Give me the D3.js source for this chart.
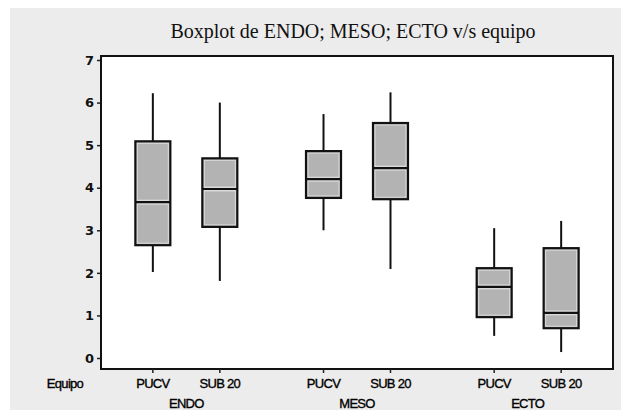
<!DOCTYPE html>
<html>
<head>
<meta charset="utf-8">
<script src="https://cdn.jsdelivr.net/npm/d3@7"></script>
<style>
  html, body { margin: 0; padding: 0; background: #fff; }
  svg { display: block; }
</style>
</head>
<body>
<svg id="chart" width="626" height="416"></svg>
<script>
// groups on the x axis, two teams inside each
var groups = ['ENDO', 'MESO', 'ECTO']
var teams = ['PUCV', 'SUB 20']

// one entry per box, order: ENDO PUCV, ENDO SUB 20, MESO PUCV, MESO SUB 20, ECTO PUCV, ECTO SUB 20
var lows = [2.02, 1.81, 3.00, 2.09, 0.52, 0.14]
var q1s = [2.65, 3.08, 3.76, 3.73, 0.96, 0.70]
var medians = [3.66, 3.97, 4.20, 4.46, 1.67, 1.06]
var q3s = [5.09, 4.69, 4.86, 5.52, 2.11, 2.58]
var highs = [6.22, 6.00, 5.73, 6.24, 3.05, 3.22]

var yTicks = [0, 1, 2, 3, 4, 5, 6, 7]

;(function() {
  var svg = d3.select('#chart')

  var plotL = 101, plotR = 613, plotT = 56, plotB = 369,
    boxW = 35

  // outer grey panel
  svg.append('rect')
    .attr('x', 10).attr('y', 8).attr('width', 611).attr('height', 402)
    .attr('fill', '#ececec')

  svg.append('text')
    .attr('x', 353).attr('y', 38)
    .attr('text-anchor', 'middle')
    .attr('font-family', '"Liberation Serif", "Times New Roman", serif')
    .attr('font-size', 20)
    .attr('fill', '#111')
    .text('Boxplot de ENDO; MESO; ECTO v/s equipo')

  var x0 = d3.scaleBand().domain(groups).range([plotL, plotR])
  var x1 = d3.scalePoint().domain(teams).range([0, x0.bandwidth()]).padding(0.774)
  var y = d3.scaleLinear().domain([0, 7]).range([358, 60])

  svg.append('rect')
    .attr('x', plotL).attr('y', plotT).attr('width', plotR - plotL).attr('height', plotB - plotT)
    .attr('fill', '#fff').attr('stroke', '#111').attr('stroke-width', 2)

  // y axis
  var yAxis = svg.append('g')
    .attr('transform', 'translate(' + (plotL - 1) + ',0)')
    .call(d3.axisLeft(y).tickValues(yTicks).tickSize(3).tickPadding(3).tickFormat(d3.format('d')))
  yAxis.select('.domain').remove()
  yAxis.selectAll('line').attr('stroke', '#222').attr('stroke-width', 1.5)
  yAxis.selectAll('text')
    .attr('font-family', '"DejaVu Sans", Verdana, sans-serif')
    .attr('font-weight', 'bold')
    .attr('font-size', 13)
    .attr('fill', '#111')

  // flatten rows of boxes
  var boxes = []
  groups.forEach(function(g, gi) {
    teams.forEach(function(t, ti) {
      var i = gi*teams.length + ti
      boxes.push({group: g, team: t, low: lows[i], q1: q1s[i], med: medians[i], q3: q3s[i], high: highs[i]})
    })
  })
  function cx(d) { return x0(d.group) + x1(d.team) }

  // x tick marks and labels
  var xg = svg.append('g')
    .attr('font-family', '"Liberation Sans", Arial, sans-serif')
    .attr('font-size', 13)
    .attr('fill', '#000')
    .attr('stroke', '#000').attr('stroke-width', 0.35)
    .attr('letter-spacing', -0.7)

  xg.selectAll('line.tick').data(boxes).enter()
    .append('line')
    .attr('x1', cx).attr('x2', cx)
    .attr('y1', plotB).attr('y2', plotB + 4)
    .attr('stroke', '#222').attr('stroke-width', 1.5)

  xg.selectAll('text.team').data(boxes).enter()
    .append('text')
    .attr('class', 'team')
    .attr('x', cx).attr('y', 388)
    .attr('text-anchor', 'middle')
    .text(function(d) { return d.team })

  xg.selectAll('text.group').data(groups).enter()
    .append('text')
    .attr('class', 'group')
    .attr('x', function(g) { return x0(g) + x0.bandwidth()/2 })
    .attr('y', 408)
    .attr('text-anchor', 'middle')
    .text(function(g) { return g })

  xg.append('text')
    .attr('x', 65).attr('y', 388)
    .attr('text-anchor', 'middle')
    .text('Equipo')

  // boxes
  var bx = svg.selectAll('g.box').data(boxes).enter()
    .append('g').attr('class', 'box')

  bx.append('line')
    .attr('x1', cx).attr('x2', cx)
    .attr('y1', function(d) { return y(d.high) })
    .attr('y2', function(d) { return y(d.q3) })
    .attr('stroke', '#111').attr('stroke-width', 2)

  bx.append('line')
    .attr('x1', cx).attr('x2', cx)
    .attr('y1', function(d) { return y(d.q1) })
    .attr('y2', function(d) { return y(d.low) })
    .attr('stroke', '#111').attr('stroke-width', 2)

  bx.append('rect')
    .attr('x', function(d) { return cx(d) - boxW/2 })
    .attr('y', function(d) { return y(d.q3) })
    .attr('width', boxW)
    .attr('height', function(d) { return y(d.q1) - y(d.q3) })
    .attr('fill', '#b3b3b3')

  // light inner edge
  bx.append('rect')
    .attr('x', function(d) { return cx(d) - boxW/2 + 2 })
    .attr('y', function(d) { return y(d.q3) + 2 })
    .attr('width', boxW - 4)
    .attr('height', function(d) { return y(d.q1) - y(d.q3) - 4 })
    .attr('fill', 'none').attr('stroke', '#dadada').attr('stroke-width', 1)

  bx.append('line')
    .attr('x1', function(d) { return cx(d) - boxW/2 + 2 })
    .attr('x2', function(d) { return cx(d) + boxW/2 - 2 })
    .attr('y1', function(d) { return y(d.med) })
    .attr('y2', function(d) { return y(d.med) })
    .attr('stroke', '#dadada').attr('stroke-width', 5)

  bx.append('line')
    .attr('x1', function(d) { return cx(d) - boxW/2 })
    .attr('x2', function(d) { return cx(d) + boxW/2 })
    .attr('y1', function(d) { return y(d.med) })
    .attr('y2', function(d) { return y(d.med) })
    .attr('stroke', '#111').attr('stroke-width', 2.2)

  bx.append('rect')
    .attr('x', function(d) { return cx(d) - boxW/2 })
    .attr('y', function(d) { return y(d.q3) })
    .attr('width', boxW)
    .attr('height', function(d) { return y(d.q1) - y(d.q3) })
    .attr('fill', 'none').attr('stroke', '#111').attr('stroke-width', 2.2)
})()
</script>
</body>
</html>
